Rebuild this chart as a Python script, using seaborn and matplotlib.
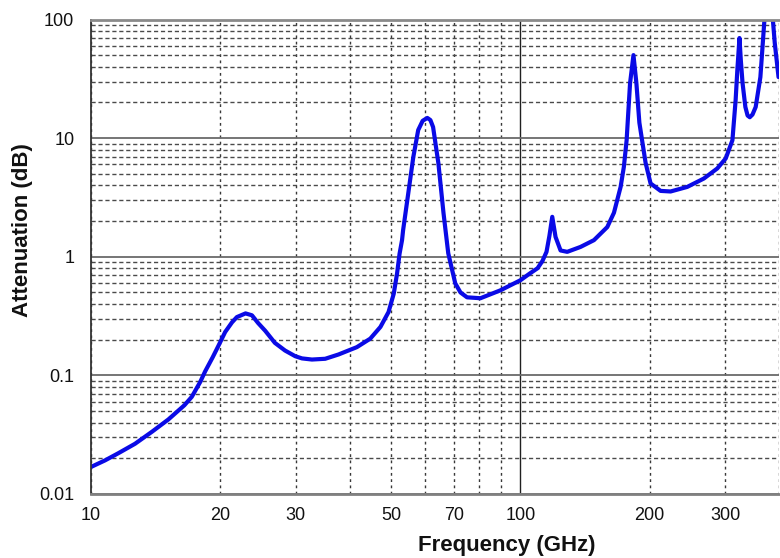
import matplotlib
matplotlib.use("Agg")
import matplotlib.pyplot as plt
import matplotlib.ticker as mticker
import seaborn as sns
import pandas as pd

# Data
freq_ghz = [10, 10.78, 11.56, 12.66, 13.87, 15.14, 16.5, 17.17, 17.96, 18.44, 19.2, 19.81,
            20.53, 21.3, 21.86, 22.9, 23.7, 24.5, 25.44, 26.8, 28.3, 29.9, 31.0, 32.7, 35.1,
            37.7, 41.6, 44.7, 47.2, 49.3, 50.7, 51.6, 52.3, 53.0, 53.3, 54.8, 56.3, 57.8,
            59.2, 60.7, 61.7, 62.6, 64.4, 66.2, 67.9, 70.5, 72.5, 75.1, 80.7, 89.8, 100,
            105, 109.6, 112.5, 115, 116.8, 118.6, 120.7, 124, 128.5, 138, 148.3, 159.3,
            165.1, 171.1, 174.1, 176.7, 178.2, 180, 183.3, 186.2, 189.2, 192.5, 195.6,
            200.9, 212, 223.7, 244.6, 267.5, 287.3, 300.6, 307.6, 311.6, 317, 320, 323.6,
            326, 329, 334, 338, 342, 347, 353, 362, 370, 380, 387, 391, 399]
atten_db = [0.0169, 0.0192, 0.022, 0.0265, 0.0335, 0.0425, 0.056, 0.066, 0.088, 0.108,
            0.142, 0.178, 0.232, 0.28, 0.31, 0.333, 0.321, 0.276, 0.238, 0.188, 0.162, 0.145,
            0.139, 0.136, 0.138, 0.15, 0.173, 0.204, 0.256, 0.342, 0.489, 0.721, 1.06, 1.38,
            1.67, 3.43, 6.92, 11.7, 14.0, 14.8, 14.2, 12.4, 6.15, 2.33, 1.07, 0.597, 0.5,
            0.455, 0.447, 0.521, 0.634, 0.72, 0.80, 0.92, 1.1, 1.5, 2.17, 1.47, 1.13, 1.10,
            1.21, 1.38, 1.78, 2.35, 3.88, 5.72, 9.6, 16.0, 29.1, 50.1, 29.1, 13.5, 9.0, 6.2,
            4.15, 3.59, 3.55, 3.88, 4.57, 5.55, 6.74, 8.45, 9.6, 20.9, 38.0, 69.8, 45.0,
            29.1, 18.3, 15.5, 15.0, 15.8, 18.3, 32.7, 100, 300, 100, 63.4, 32.7]

x_ticks = [10, 20, 30, 50, 70, 100, 200, 300]
x_ticklabels = ["10", "20", "30", "50", "70", "100", "200", "300"]
y_ticks = [0.01, 0.1, 1, 10, 100]
y_ticklabels = ["0.01", "0.1", "1", "10", "100"]

df = pd.DataFrame({"Frequency (GHz)": freq_ghz, "Attenuation (dB)": atten_db})

sns.set_style("white")
plt.rcParams["font.family"] = ["Liberation Sans", "DejaVu Sans"]

fig = plt.figure(figsize=(7.8, 5.58), dpi=100)
ax = fig.add_axes([91 / 780, (558 - 494) / 558, 688 / 780, 474.5 / 558])

sns.lineplot(data=df, x="Frequency (GHz)", y="Attenuation (dB)", ax=ax,
             color="#0A0AE6", linewidth=3.0, estimator=None, sort=False)
for ln in ax.lines:
    ln.set_solid_joinstyle("round")
    ln.set_solid_capstyle("round")

ax.set_xscale("log")
ax.set_yscale("log")
ax.set_xlim(10, 400)
ax.set_ylim(0.01, 100)

ax.xaxis.set_major_locator(mticker.FixedLocator(x_ticks))
ax.xaxis.set_major_formatter(mticker.FixedFormatter(x_ticklabels))
ax.xaxis.set_minor_locator(mticker.FixedLocator([40, 60, 80, 90, 400]))
ax.xaxis.set_minor_formatter(mticker.NullFormatter())
ax.yaxis.set_major_locator(mticker.FixedLocator(y_ticks))
ax.yaxis.set_major_formatter(mticker.FixedFormatter(y_ticklabels))
ax.yaxis.set_minor_locator(mticker.LogLocator(base=10, subs=range(2, 10)))
ax.yaxis.set_minor_formatter(mticker.NullFormatter())

ax.set_axisbelow(True)
# horizontal grid
ax.yaxis.grid(True, which="major", color="#6a6a6a", linewidth=1.3, linestyle="-")
ax.yaxis.grid(True, which="minor", color="#4a4a4a", linewidth=1.0, linestyle=(0, (3, 2)))
# vertical grid: all x ticks dotted, 100 solid
ax.xaxis.grid(True, which="both", color="#383838", linewidth=1.0, linestyle=(0, (2, 2.5)))
for gl, t in zip(ax.xaxis.get_gridlines(), x_ticks):
    if t == 100:
        gl.set_linestyle("-")
        gl.set_color("#202020")
        gl.set_linewidth(1.0)

ax.tick_params(axis="both", which="major", length=4, width=1.2, color="#555555",
               labelsize=13, labelcolor="#111111")
ax.tick_params(axis="x", which="major", pad=5)
ax.tick_params(axis="y", which="major", pad=8)
ax.tick_params(axis="both", which="minor", length=0)

for side in ["left", "bottom", "top"]:
    ax.spines[side].set_visible(True)
ax.spines["right"].set_visible(False)
ax.spines["left"].set_color("#333333")
ax.spines["left"].set_linewidth(1.3)
ax.spines["bottom"].set_color("#808080")
ax.spines["bottom"].set_linewidth(2.0)
ax.spines["top"].set_color("#8a8a8a")
ax.spines["top"].set_linewidth(2.0)

ax.set_xlabel("Frequency (GHz)", fontsize=16, fontweight="bold", color="#111111")
ax.set_ylabel("Attenuation (dB)", fontsize=16, fontweight="bold", color="#111111")
ax.xaxis.set_label_coords((507 - 91) / 688, (494 - 546) / 474.5)
ax.xaxis.label.set_verticalalignment("center")
ax.yaxis.set_label_coords((23 - 91) / 688, (494 - 230) / 474.5)
ax.yaxis.label.set_verticalalignment("center")

fig.savefig("out.png", dpi=100)
